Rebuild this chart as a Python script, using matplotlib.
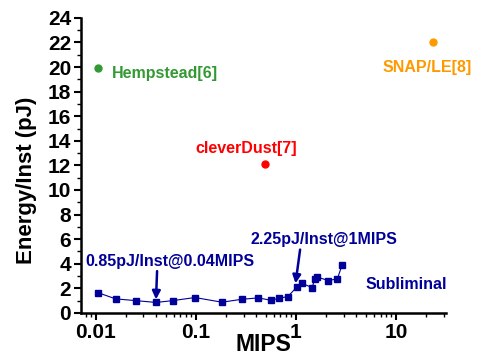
import numpy as np
import matplotlib
matplotlib.use('Agg')
from matplotlib import pyplot as plt
from matplotlib.ticker import LogLocator, MultipleLocator

plt.rcParams['font.family'] = ['Liberation Sans', 'DejaVu Sans']
plt.rcParams['font.weight'] = 'bold'

# subliminal measurements
sub_mips = [0.0105, 0.0158, 0.025, 0.040, 0.059, 0.098, 0.182, 0.29, 0.42, 0.56,
            0.68, 0.83, 1.02, 1.15, 1.45, 1.54, 1.62, 2.1, 2.59, 2.9]
sub_energy = [1.65, 1.14, 1.0, 0.85, 1.0, 1.25, 0.87, 1.11, 1.22, 1.03,
              1.19, 1.33, 2.1, 2.4, 2.06, 2.74, 2.93, 2.63, 2.77, 3.93]

others = ['Hempstead[6]', 'cleverDust[7]', 'SNAP/LE[8]']
other_mips = [0.0105, 0.49, 23.3]
other_energy = [19.9, 12.1, 22.0]
other_colors = ['#339933', '#ff0000', '#ff9900']

navy = '#000099'
fs = 11.5

fig = plt.figure(figsize=(4.87, 3.58), dpi=100)
ax = fig.add_axes([0.166, 0.126, 0.75, 0.824])

ax.plot(sub_mips, sub_energy, '-s', color=navy, lw=0.8, ms=4.5)
for name, m, e, c in zip(others, other_mips, other_energy, other_colors):
    ax.plot(m, e, 'o', color=c, ms=5)

ax.text(0.0145, 19.45, 'Hempstead[6]', color='#339933', fontsize=fs, fontweight='bold', va='center')
ax.text(0.32, 13.4, 'cleverDust[7]', color='#ff0000', fontsize=fs, fontweight='bold', va='center', ha='center')
ax.text(20.4, 20.0, 'SNAP/LE[8]', color='#ff9900', fontsize=fs, fontweight='bold', va='center', ha='center')
ax.text(5.0, 2.28, 'Subliminal', color=navy, fontsize=fs, fontweight='bold', va='center')

ax.text(0.055, 4.15, '0.85pJ/Inst@0.04MIPS', color=navy, fontsize=fs, fontweight='bold',
        ha='center', va='center')
ax.annotate('', xy=(sub_mips[3], sub_energy[3] + 0.25), xytext=(0.041, 3.4),
            arrowprops=dict(arrowstyle='-|>', color=navy, lw=1.8, mutation_scale=12,
                            shrinkA=0, shrinkB=0))
ax.text(1.9, 5.94, '2.25pJ/Inst@1MIPS', color=navy, fontsize=fs, fontweight='bold',
        ha='center', va='center')
ax.annotate('', xy=(sub_mips[12] - 0.03, sub_energy[12] + 0.3), xytext=(1.1, 5.15),
            arrowprops=dict(arrowstyle='-|>', color=navy, lw=1.8, mutation_scale=12,
                            shrinkA=0, shrinkB=0))

ax.set_xscale('log')
ax.set_xlim(0.0071, 31.6)
ax.set_ylim(0, 24)
ax.set_xticks([0.01, 0.1, 1, 10])
ax.set_xticklabels(['0.01', '0.1', '1', '10'])
ax.xaxis.set_minor_locator(LogLocator(base=10, subs=np.arange(2, 10)))
ax.yaxis.set_major_locator(MultipleLocator(2))
ax.yaxis.set_minor_locator(MultipleLocator(1))

ax.tick_params(axis='both', which='major', labelsize=15, width=1.5, length=5, pad=2)
ax.tick_params(axis='both', which='minor', width=1, length=3)
for lab in ax.get_xticklabels() + ax.get_yticklabels():
    lab.set_fontweight('bold')

for s in ['top', 'right']:
    ax.spines[s].set_visible(False)
for s in ['left', 'bottom']:
    ax.spines[s].set_linewidth(1.8)

ax.set_xlabel('MIPS', fontsize=16.5, fontweight='bold', labelpad=-6)
ax.set_ylabel('Energy/Inst (pJ)', fontsize=16, fontweight='bold')
ax.yaxis.set_label_coords(-0.12, 0.45)

fig.savefig('out.png', dpi=100)
